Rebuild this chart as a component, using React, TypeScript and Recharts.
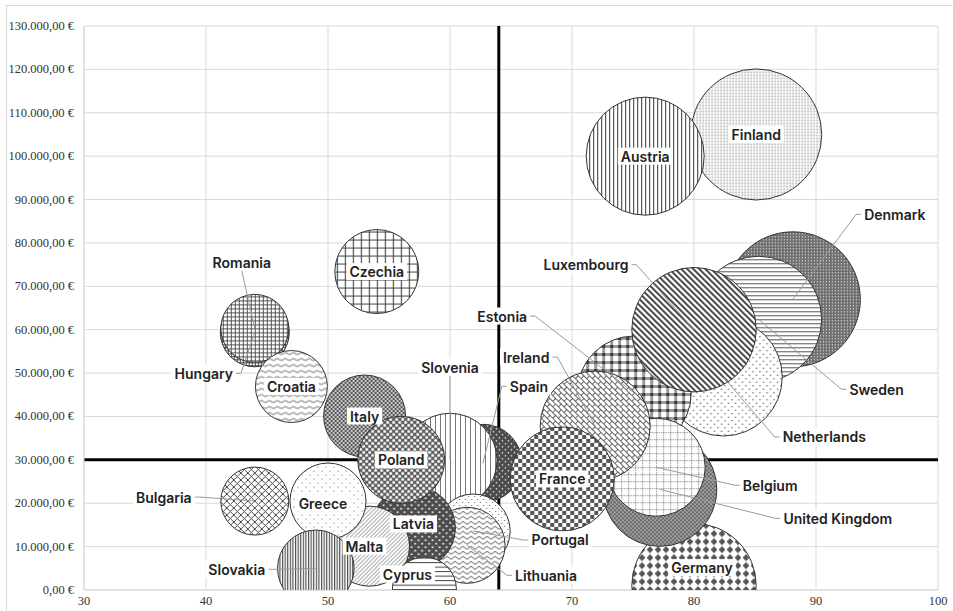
import React from "react";
import {
  ScatterChart,
  Scatter,
  XAxis,
  YAxis,
  ZAxis,
  CartesianGrid,
  Cell,
} from "recharts";

// countries in drawing order (later ones sit on top)
const countries = [
  "Denmark", "Sweden", "Netherlands", "Estonia", "Germany", "United Kingdom", "Belgium",
  "Ireland", "Luxembourg", "Spain", "France", "Finland", "Austria", "Slovenia", "Italy",
  "Portugal", "Lithuania", "Latvia", "Malta", "Cyprus", "Poland", "Greece", "Slovakia",
  "Hungary", "Romania", "Croatia", "Bulgaria", "Czechia",
];
const scores = [
  88.1, 85.3, 82.4, 75.1, 80.0, 77.2, 76.9,
  71.9, 80.0, 62.7, 69.2, 85.1, 76.0, 60.0, 53.0,
  61.9, 61.4, 57.0, 53.4, 57.9, 56.0, 50.0, 49.0,
  44.0, 44.0, 47.0, 44.0, 54.0,
];
const amounts = [
  67000, 62400, 49100, 45400, 1000, 23200, 28300,
  37800, 60000, 29200, 25600, 105000, 100000, 29900, 40100,
  13600, 10300, 14300, 10100, 200, 30000, 20500, 5000,
  59400, 60300, 46900, 20500, 73400,
];
const sizes = [
  93.0, 81.0, 71.0, 66.3, 79.0, 66.3, 49.0,
  61.7, 79.0, 31.0, 55.2, 87.6, 71.0, 45.1, 34.3,
  27.9, 29.5, 36.0, 32.7, 20.9, 38.6, 29.5, 29.9,
  24.3, 23.6, 26.4, 23.6, 36.0,
];

const xTicks = [30, 40, 50, 60, 70, 80, 90, 100];
const yTicks = [0, 10000, 20000, 30000, 40000, 50000, 60000, 70000, 80000, 90000, 100000, 110000, 120000, 130000];
const xDivider = [64];
const yDivider = [30000];

const data = countries.map((name, i) => ({ name, x: scores[i], y: amounts[i], z: sizes[i] }));

// label placement relative to the bubble centre, in pixels
const labelOffsets: Record<string, [number, number]> = {
  Romania: [-13, -66],
  Hungary: [-51, 41],
  Slovenia: [0, -93],
  Spain: [46, -77],
  Estonia: [-132, -77],
  Ireland: [-69, -69],
  Luxembourg: [-108, -65],
  Denmark: [102, -85],
  Sweden: [118, 70],
  Netherlands: [101, 60],
  Belgium: [114, 18],
  "United Kingdom": [178, 29],
  Portugal: [87, 9],
  Lithuania: [79, 30],
  Bulgaria: [-91, -4],
  Slovakia: [-79, 1],
  Germany: [8, -18],
  Malta: [-5, 0],
  Cyprus: [-17, -15],
  Latvia: [0, -4],
  Greece: [-5, 2],
};

const fmtEuro = (v: number) => {
  const s = String(Math.round(v)).replace(/\B(?=(\d{3})+(?!\d))/g, ".");
  return `${s},00 €`;
};

const pid = (name: string) => "p-" + name.replace(/\s+/g, "");

let ctx: CanvasRenderingContext2D | null = null;
const textWidth = (t: string) => {
  if (!ctx) ctx = document.createElement("canvas").getContext("2d");
  if (!ctx) return t.length * 8;
  ctx.font = "600 14px Inter";
  return ctx.measureText(t).width;
};

const Tile = ({ id, w, h, bg = "#fff", transform, children }: any) => (
  <pattern id={id} width={w} height={h} patternUnits="userSpaceOnUse" patternTransform={transform}>
    <rect width={w} height={h} fill={bg} />
    {children}
  </pattern>
);

const Patterns = () => (
  <defs>
    <Tile id={pid("Austria")} w={4} h={4}>
      <line x1={0.5} y1={0} x2={0.5} y2={4} stroke="#333" strokeWidth={1} />
    </Tile>
    <Tile id={pid("Slovenia")} w={5} h={5}>
      <line x1={0.5} y1={0} x2={0.5} y2={5} stroke="#555" strokeWidth={0.8} />
    </Tile>
    <Tile id={pid("Slovakia")} w={2.6} h={4}>
      <line x1={0.6} y1={0} x2={0.6} y2={4} stroke="#333" strokeWidth={1} />
    </Tile>
    <Tile id={pid("Finland")} w={3} h={3}>
      <circle cx={1} cy={1} r={0.7} fill="#666" />
    </Tile>
    <Tile id={pid("Czechia")} w={8} h={8}>
      <path d="M0.5 0 V8 M0 0.5 H8" stroke="#444" strokeWidth={1.2} />
    </Tile>
    <Tile id={pid("Romania")} w={4} h={4}>
      <path d="M0.5 0 V4 M0 0.5 H4" stroke="#444" strokeWidth={0.9} />
    </Tile>
    <Tile id={pid("Hungary")} w={3} h={3}>
      <path d="M0.5 0 V3 M0 0.5 H3" stroke="#333" strokeWidth={0.9} />
    </Tile>
    <Tile id={pid("Croatia")} w={8} h={6}>
      <path d="M0 3 Q2 0.8 4 3 T8 3" fill="none" stroke="#444" strokeWidth={0.8} />
    </Tile>
    <Tile id={pid("Lithuania")} w={8} h={5}>
      <path d="M0 4 L4 1 L8 4" fill="none" stroke="#444" strokeWidth={0.9} />
    </Tile>
    <Tile id={pid("Italy")} w={4} h={4} bg="#575757">
      <circle cx={1} cy={1} r={0.9} fill="#fff" />
      <circle cx={3} cy={3} r={0.9} fill="#fff" />
    </Tile>
    <Tile id={pid("Poland")} w={6} h={6} bg="#5e5e5e">
      <circle cx={1.5} cy={1.5} r={1.5} fill="#fff" />
      <circle cx={4.5} cy={4.5} r={1.5} fill="#fff" />
    </Tile>
    <Tile id={pid("Spain")} w={6} h={6} bg="#4a4a4a">
      <circle cx={1.5} cy={1.5} r={0.8} fill="#fff" />
      <circle cx={4.5} cy={4.5} r={0.8} fill="#fff" />
    </Tile>
    <Tile id={pid("Latvia")} w={7} h={7} bg="#4d4d4d">
      <circle cx={1.75} cy={1.75} r={0.9} fill="#fff" />
      <circle cx={5.25} cy={5.25} r={0.9} fill="#fff" />
    </Tile>
    <Tile id={pid("Denmark")} w={3} h={3} bg="#707070">
      <rect x={0} y={0} width={1} height={1} fill="#fff" />
    </Tile>
    <Tile id={pid("United Kingdom")} w={4} h={4} bg="#636363">
      <circle cx={1} cy={1} r={0.8} fill="#fff" />
      <circle cx={3} cy={3} r={0.8} fill="#fff" />
    </Tile>
    <Tile id={pid("France")} w={8} h={8}>
      <rect x={0} y={0} width={4} height={4} fill="#555" />
      <rect x={4} y={4} width={4} height={4} fill="#555" />
    </Tile>
    <Tile id={pid("Estonia")} w={8} h={8}>
      <rect x={0} y={0} width={8} height={3} fill="#999" />
      <rect x={0} y={0} width={3} height={8} fill="#999" />
      <rect x={0} y={0} width={3} height={3} fill="#3a3a3a" />
    </Tile>
    <Tile id={pid("Greece")} w={8} h={8}>
      <circle cx={2} cy={2} r={0.6} fill="#555" />
      <circle cx={6} cy={6} r={0.6} fill="#555" />
    </Tile>
    <Tile id={pid("Portugal")} w={6} h={6}>
      <circle cx={1.5} cy={1.5} r={0.6} fill="#555" />
      <circle cx={4.5} cy={4.5} r={0.6} fill="#555" />
    </Tile>
    <Tile id={pid("Netherlands")} w={7} h={7}>
      <circle cx={1.75} cy={1.75} r={0.7} fill="#555" />
      <circle cx={5.25} cy={5.25} r={0.7} fill="#555" />
    </Tile>
    <Tile id={pid("Bulgaria")} w={7} h={7}>
      <path d="M0 0 L7 7 M7 0 L0 7" stroke="#444" strokeWidth={1} />
    </Tile>
    <Tile id={pid("Malta")} w={4} h={4}>
      <path d="M0 4 L4 0 M-1 1 L1 -1 M3 5 L5 3" stroke="#555" strokeWidth={0.7} />
    </Tile>
    <Tile id={pid("Luxembourg")} w={6} h={6}>
      <path d="M0 0 L6 6 M-1 5 L1 7 M5 -1 L7 1" stroke="#333" strokeWidth={1.8} />
    </Tile>
    <Tile id={pid("Sweden")} w={4} h={4}>
      <line x1={0} y1={0.5} x2={4} y2={0.5} stroke="#555" strokeWidth={1} />
    </Tile>
    <Tile id={pid("Cyprus")} w={4.5} h={4.5}>
      <line x1={0} y1={0.5} x2={4.5} y2={0.5} stroke="#444" strokeWidth={1} />
    </Tile>
    <Tile id={pid("Germany")} w={8} h={8}>
      <polygon points="4,0.6 7.4,4 4,7.4 0.6,4" fill="#555" />
    </Tile>
    <Tile id={pid("Belgium")} w={7} h={7}>
      <path d="M0.5 0 V7 M0 0.5 H7" stroke="#777" strokeWidth={0.8} strokeDasharray="1.5 1" />
    </Tile>
    <Tile id={pid("Ireland")} w={8} h={8} transform="rotate(45)">
      <path d="M0 0.5 H8 M0 4.5 H8 M0.5 0 V4 M4.5 4 V8" stroke="#555" strokeWidth={0.9} />
    </Tile>
  </defs>
);

const BubbleLabel = (props: any) => {
  const { cx, cy } = props;
  const name: string = props.payload?.name ?? props.name;
  if (cx == null || cy == null || !name) return null;
  const [dx, dy] = labelOffsets[name] ?? [0, 0];
  const lx = cx + dx;
  const ly = cy + dy;
  const w = textWidth(name) + 6;
  const h = 17;
  let leader: React.ReactNode = null;
  if (Math.hypot(dx, dy) > 30) {
    if (Math.abs(dx) < w / 2) {
      const sy = ly + (dy < 0 ? h / 2 : -h / 2);
      leader = <path d={`M${lx},${sy} L${cx},${cy}`} stroke="#9a9a9a" fill="none" strokeWidth={1} />;
    } else {
      const s = dx > 0 ? -1 : 1;
      const sx = lx + (s * w) / 2;
      leader = (
        <path
          d={`M${sx},${ly} L${sx + s * 5},${ly} L${cx},${cy}`}
          stroke="#9a9a9a"
          fill="none"
          strokeWidth={1}
        />
      );
    }
  }
  return (
    <g>
      {leader}
      <rect x={lx - w / 2} y={ly - h / 2} width={w} height={h} fill="#fff" />
      <text
        x={lx}
        y={ly}
        textAnchor="middle"
        dominantBaseline="central"
        fontFamily="Inter, 'Noto Sans', sans-serif"
        fontWeight={600}
        fontSize={14}
        fill="#222"
      >
        {name}
      </text>
    </g>
  );
};

const serif = "'Liberation Serif', 'DejaVu Serif', serif";

const YTick = ({ x, y, payload }: any) => (
  <text x={x} y={y} textAnchor="end" dominantBaseline="central" fontFamily={serif} fontSize={12.5} fill="#333">
    {fmtEuro(payload.value)}
  </text>
);

const XTick = ({ x, y, payload }: any) => (
  <text x={x} y={y + 7} textAnchor="middle" fontFamily={serif} fontSize={12.5} fill="#333">
    {payload.value}
  </text>
);

export default function App() {
  return (
    <div style={{ position: "absolute", left: 0, top: 0, width: 953, height: 611, overflow: "hidden", background: "#fff" }}>
      <div
        style={{
          position: "absolute",
          left: 6,
          top: 5,
          width: 1000,
          height: 700,
          border: "1px solid #d9d9d9",
        }}
      />
      <div style={{ position: "absolute", left: 0, top: 0 }}>
        <ScatterChart width={953} height={611} margin={{ top: 26, right: 15, bottom: 0, left: 0 }}>
          <Patterns />
          <CartesianGrid stroke="#d9d9d9" strokeWidth={1} />
          <CartesianGrid
            stroke="#000"
            strokeWidth={3}
            horizontalValues={yDivider}
            verticalValues={xDivider}
            fill="none"
          />
          <XAxis
            type="number"
            dataKey="x"
            domain={[30, 100]}
            ticks={xTicks}
            height={21}
            tickLine={false}
            axisLine={{ stroke: "#d9d9d9" }}
            tick={<XTick />}
          />
          <YAxis
            type="number"
            dataKey="y"
            domain={[0, 130000]}
            ticks={yTicks}
            width={84}
            allowDataOverflow
            tickLine={false}
            axisLine={{ stroke: "#d9d9d9" }}
            tick={<YTick />}
            tickMargin={4}
          />
          <ZAxis type="number" dataKey="z" domain={[0, 100]} range={[0, Math.PI * 70 * 70]} />
          <Scatter data={data} isAnimationActive={false} stroke="#333" strokeWidth={1}>
            {data.map((d) => (
              <Cell key={d.name} fill={`url(#${pid(d.name)})`} stroke="#333" strokeWidth={1} />
            ))}
          </Scatter>
          <Scatter data={data} isAnimationActive={false} shape={BubbleLabel} />
        </ScatterChart>
      </div>
    </div>
  );
}
